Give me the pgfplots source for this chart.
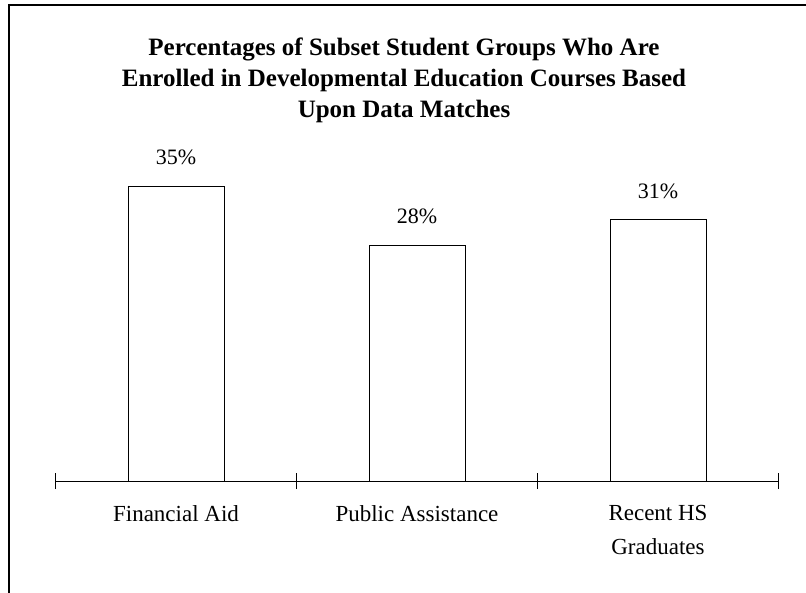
\documentclass[border=0pt]{standalone}
\usepackage{fontspec}
\setmainfont{Liberation Serif}
\usepackage{pgfplots}
\pgfplotsset{compat=1.18}
\begin{document}
\begin{tikzpicture}
\useasboundingbox (0,0) rectangle (806bp,593bp);
\draw[line width=2bp] (9bp,0) -- (9bp,588bp) -- (806bp,588bp);
\node[font=\fontsize{25bp}{31bp}\selectfont\bfseries, align=center] at (404bp,513bp)
  {Percentages of Subset Student Groups Who Are\\Enrolled in Developmental Education Courses Based\\Upon Data Matches};
\begin{axis}[
  at={(176bp,112bp)}, anchor=origin,
  width=723bp, height=337bp, scale only axis,
  xmin=-0.5, xmax=2.5, ymin=0, ymax=40,
  axis y line=none, axis x line=bottom,
  axis line style={-, line width=0.8bp},
  xtick={0,1,2},
  xticklabels={Financial Aid, Public Assistance, {Recent HS\\Graduates}},
  xticklabel style={align=center, font=\fontsize{23bp}{34bp}\selectfont, yshift=-21bp},
  major tick length=0pt,
  extra x ticks={-0.5,0.5,1.5,2.5},
  extra x tick labels={},
  extra x tick style={major tick length=16bp, tick align=center, tick style={line width=0.8bp, black}},
  ybar, bar width=96bp,
  /pgf/number format/assume math mode=true,
  nodes near coords={\pgfmathprintnumber{\pgfplotspointmeta}\%},
  nodes near coords style={font=\fontsize{22bp}{26bp}\selectfont, anchor=south, yshift=17.5bp},
  clip=false,
]
\addplot[draw=black, fill=white, line width=0.8bp] coordinates {(0,35) (1,28) (2,31)};
\end{axis}
\end{tikzpicture}
\end{document}
